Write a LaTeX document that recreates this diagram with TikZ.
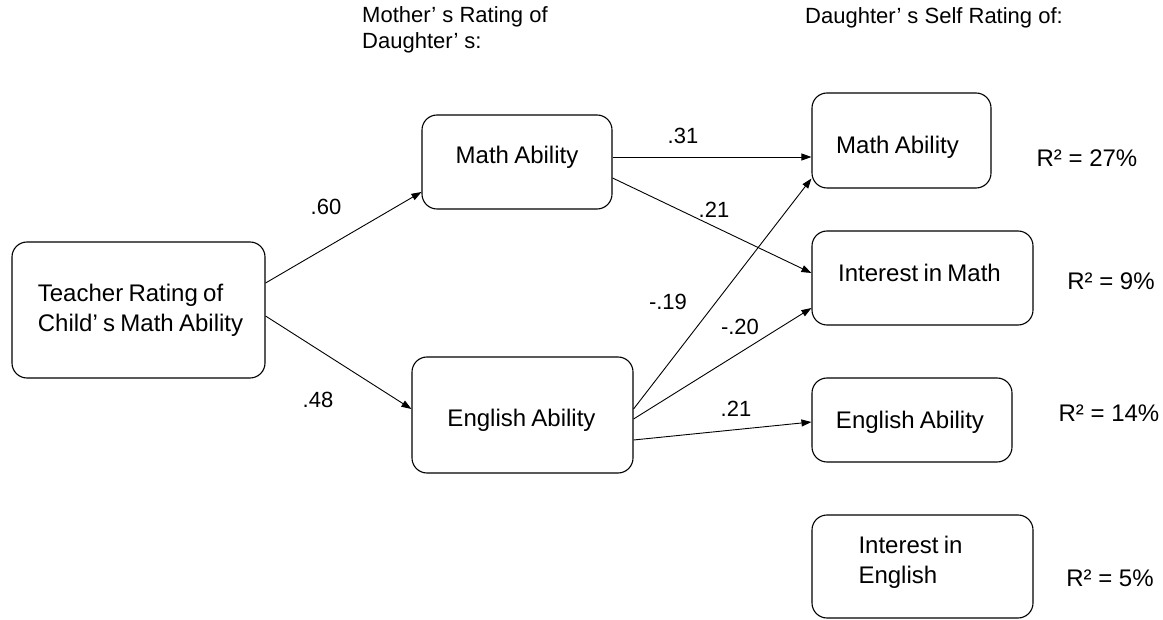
\documentclass[tikz,border=0pt]{standalone}
\usepackage{fontspec}
\setmainfont{Liberation Sans}
\usetikzlibrary{arrows.meta}
\newcommand\boxfont{\fontsize{24}{30}\selectfont\spaceskip=0.22em\relax}
\tikzset{
  box/.style={draw, line width=1.1pt, rounded corners=15pt, inner sep=0pt},
  txt/.style={font=\boxfont, inner sep=0pt, anchor=center},
  hdr/.style={font=\fontsize{22}{26}\selectfont, inner sep=0pt, anchor=west, align=left},
  coef/.style={font=\fontsize{22}{26}\selectfont, inner sep=0pt},
  rsq/.style={font=\fontsize{24}{26}\selectfont, inner sep=0pt},
  path/.style={line width=0.9pt, -{Triangle[length=10pt,width=7pt]}}
}
\begin{document}
\begin{tikzpicture}[x=1pt,y=-1pt]
  \useasboundingbox (0,0) rectangle (1163,620);

  % column headings
  \node[hdr] (hmom) at (362,30) {Mother’ s Rating of\\Daughter’ s:};
  \node[hdr] (hdau) at (805,18) {Daughter’ s Self Rating of:};

  % boxes
  \node[box, minimum width=253pt, minimum height=136pt] (tch) at (138.5,310) {};
  \node[box, minimum width=190pt, minimum height=94pt]  (mm)  at (517,162) {};
  \node[box, minimum width=221pt, minimum height=116pt] (me)  at (522.5,415) {};
  \node[box, minimum width=179pt, minimum height=95pt]  (dm)  at (901.5,140.5) {};
  \node[box, minimum width=221pt, minimum height=94pt]  (im)  at (922.5,278) {};
  \node[box, minimum width=200pt, minimum height=84pt]  (de)  at (912,420) {};
  \node[box, minimum width=221pt, minimum height=103pt] (ie)  at (922.5,566.5) {};

  % box texts
  \node[txt, align=left] (ttch) at ([xshift=2pt]tch.center) {Teacher Rating of\\Child’ s Math Ability};
  \node[txt] (tmm) at ([yshift=5pt]mm.center) {Math Ability};
  \node[txt] (tme) at ([yshift=-5pt,xshift=-1pt]me.center) {English Ability};
  \node[txt] (tdm) at ([yshift=-6.5pt,xshift=-4pt]dm.center) {Math Ability};
  \node[txt] (tim) at ([yshift=5pt,xshift=-3pt]im.center) {Interest in Math};
  \node[txt] (tde) at ([yshift=-2pt,xshift=-2pt]de.center) {English Ability};
  \node[txt, align=left] (tie) at ([yshift=4pt,xshift=-12pt]ie.center) {Interest in\\English};

  % explained variance
  \node[rsq] (r1) at (1087,158) {R² = 27\%};
  \node[rsq] (r2) at (1111,281) {R² = 9\%};
  \node[rsq] (r3) at (1109,413) {R² = 14\%};
  \node[rsq] (r4) at (1110,578) {R² = 5\%};

  % paths
  \draw[path] ([yshift=27pt]tch.east) -- ([yshift=-30pt]mm.west);
  \draw[path] ([yshift=-6pt]tch.east) -- ([yshift=6pt]me.west);
  \draw[path] ([yshift=5pt]mm.east) -- ([yshift=-16.5pt]dm.west);
  \draw[path] ([yshift=-16pt]mm.east) -- ([yshift=5pt]im.west);
  \draw[path] ([yshift=6pt]me.east) -- ([yshift=-38pt]dm.west);
  \draw[path] ([yshift=-4pt]me.east) -- ([yshift=-30pt]im.west);
  \draw[path] ([yshift=-25pt]me.east) -- ([yshift=-2pt]de.west);

  % path coefficients
  \node[coef] (c1) at (326,207) {.60};
  \node[coef] (c2) at (318,400) {.48};
  \node[coef] (c3) at (683,136) {.31};
  \node[coef] (c4) at (714,210) {.21};
  \node[coef] (c5) at (668,302) {-.19};
  \node[coef] (c6) at (740,327) {-.20};
  \node[coef] (c7) at (736,409) {.21};
\end{tikzpicture}
\end{document}
